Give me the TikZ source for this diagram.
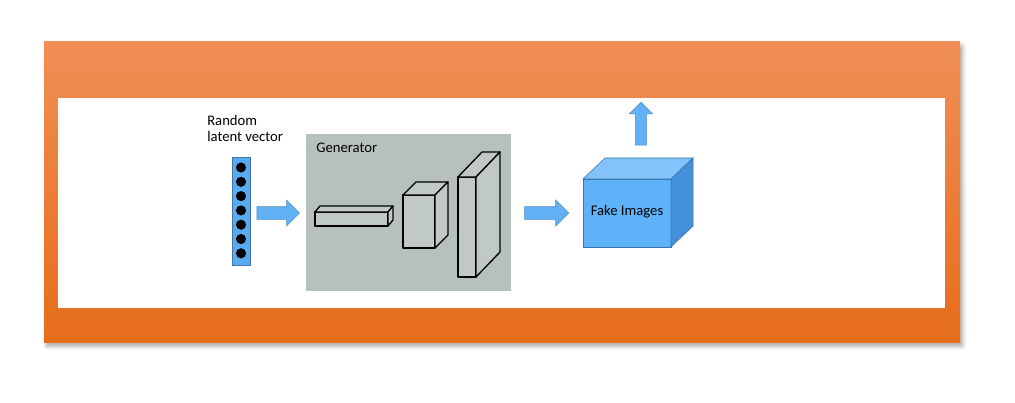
\documentclass[tikz,border=0pt]{standalone}
\usepackage{fontspec}
\setmainfont{Carlito}
\usetikzlibrary{shapes.arrows,shadows.blur}

\definecolor{frametop}{HTML}{F08E55}
\definecolor{framebot}{HTML}{E66D1A}
\definecolor{genbg}{HTML}{B6C0BC}
\definecolor{vecblue}{HTML}{5AAAF0}
\definecolor{arrowblue}{HTML}{63B1F5}
\definecolor{cubefront}{HTML}{5DB2F8}
\definecolor{cubetop}{HTML}{82C4FA}
\definecolor{cubeside}{HTML}{4590DA}

% front corner (x,y), width, height, depth dx, dy
\newcommand{\layerbox}[7][layer]{%
  \filldraw[#1] (#2,#3) rectangle ++(#4,#5);
  \filldraw[#1] (#2,#3) -- ++(#6,-#7) -- ++(#4,0) -- ++(-#6,#7) -- cycle;
  \filldraw[#1] (#2+#4,#3) -- ++(#6,-#7) -- ++(0,#5) -- ++(-#6,#7) -- cycle;
}

\begin{document}
\begin{tikzpicture}[x=0.75pt,y=-0.75pt,
  font=\fontsize{11}{12}\selectfont,
  layer/.style={draw=black, line width=1pt, fill=genbg!85!white, line join=round},
  blockarrow/.style={single arrow, fill=arrowblue, draw=arrowblue!80!black, thin,
    inner xsep=0pt, inner ysep=4.5pt, single arrow head extend=5pt}]
\useasboundingbox (0,0) rectangle (1015,403);

% Frame
\fill[top color=frametop, bottom color=framebot,
  blur shadow={shadow xshift=2pt, shadow yshift=-3pt, shadow blur radius=3pt, shadow opacity=35}]
  (44,42) rectangle (960,342);
\fill[white] (58,98) rectangle (945,308);

% Random latent vector
\node[align=left, anchor=base west, inner sep=0pt] (veclabel) at (207,142) {Random\\latent vector};
\filldraw[fill=vecblue, draw=vecblue!70!black] (232,157) rectangle (250,265);
\foreach \i in {0,...,6}
  \fill (241,167.5+14.3*\i) circle (3.8pt);

\node[blockarrow, minimum height=32pt] (arrowin) at (275,213) {};

% Generator
\node[fill=genbg, inner sep=0pt, minimum width=153.75pt, minimum height=117.75pt] (gen) at (408.5,212.5) {};
\node[anchor=base west, inner sep=0pt] (genlabel) at (316,152) {Generator};

\layerbox{315}{212}{73}{14}{5}{6}
\layerbox{403}{195}{32}{53}{13}{13}
\layerbox{458}{177}{18}{100}{24}{25}

\node[blockarrow, minimum height=33pt] (arrowout) at (543.5,213) {};

% Fake images
\filldraw[fill=cubefront, draw=cubeside!80!black, thin] (583,179) rectangle (671,247);
\filldraw[fill=cubetop, draw=cubeside!80!black, thin] (583,179) -- ++(22,-21) -- ++(88,0) -- ++(-22,21) -- cycle;
\filldraw[fill=cubeside, draw=cubeside!80!black, thin] (671,179) -- ++(22,-21) -- ++(0,68) -- ++(-22,21) -- cycle;
\node (fake) at (627,212) {Fake Images};

\node[blockarrow, minimum height=32pt, inner xsep=4pt, inner ysep=0pt, single arrow head extend=4.5pt,
  shape border rotate=90] (arrowup) at (641,126.5) {};
\end{tikzpicture}
\end{document}
